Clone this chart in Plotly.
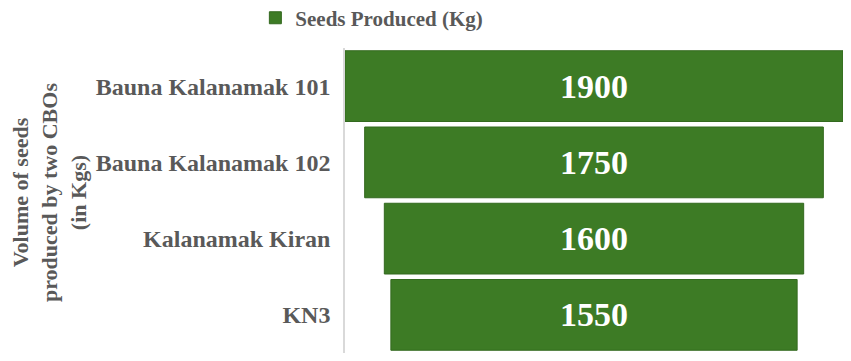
import plotly.graph_objects as go

categories = ["Bauna Kalanamak 101", "Bauna Kalanamak 102", "Kalanamak Kiran", "KN3"]
seeds_kg = [1900, 1750, 1600, 1550]
series_name = "Seeds Produced (Kg)"
y_title = "Volume of seeds<br>produced by two CBOs<br>(in Kgs)"

GREEN = "#3D7B25"
GRAY = "#595959"
FONT = "Liberation Serif, Times New Roman, serif"

fig = go.Figure()
fig.add_trace(go.Funnel(
    y=categories,
    x=seeds_kg,
    name=series_name,
    showlegend=True,
    textinfo="value",
    textposition="inside",
    insidetextanchor="middle",
    textfont=dict(family=FONT, size=34, color="white", weight="bold"),
    marker=dict(color=GREEN, line=dict(color="#33691F", width=1)),
    connector=dict(visible=False),
))

fig.update_layout(
    width=835, height=345,
    margin=dict(l=337, r=0, t=40, b=0, autoexpand=False),
    paper_bgcolor="white", plot_bgcolor="white",
    funnelgap=0.072,
    font=dict(family=FONT, color=GRAY),
    showlegend=True,
    legend=dict(
        orientation="h", x=-0.18, xanchor="left", y=1.098, yanchor="middle",
        font=dict(family=FONT, size=21, color=GRAY, weight="bold"),
        bgcolor="rgba(0,0,0,0)",
    ),
    xaxis=dict(visible=False, range=[-950, 950]),
    yaxis=dict(
        showline=True, linecolor="#D9D9D9", linewidth=1.5,
        showgrid=False, ticks="",
        tickfont=dict(family=FONT, size=24, color=GRAY, weight="bold"),
        ticklabelstandoff=8,
    ),
    annotations=[dict(
        text=y_title, textangle=-90, showarrow=False,
        xref="paper", yref="paper", x=-0.594, y=0.525,
        xanchor="center", yanchor="middle",
        font=dict(family=FONT, size=22, color=GRAY, weight="bold"),
    )],
)

fig.write_html("out.html")
